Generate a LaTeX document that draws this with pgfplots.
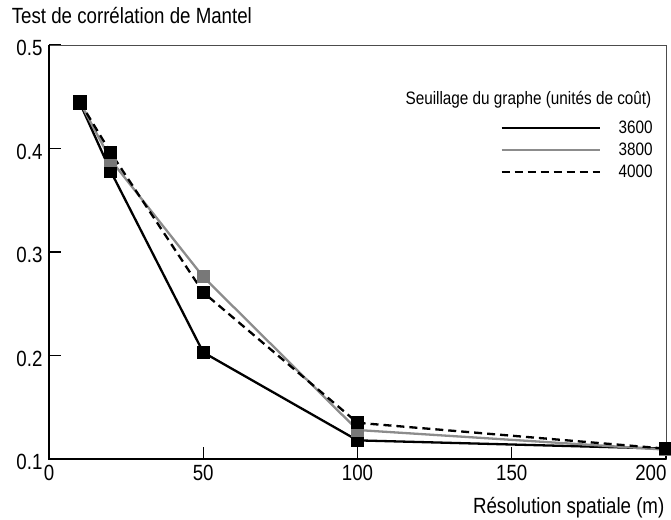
\documentclass[border=0pt]{standalone}
\usepackage{pgfplots}
\pgfplotsset{compat=1.18}
\usepackage{fontspec}
\setmainfont{Liberation Sans}[FakeStretch=0.85]

\definecolor{grisligne}{RGB}{140,140,140}
\definecolor{grismarque}{RGB}{120,120,120}

\begin{document}
\begin{tikzpicture}
\useasboundingbox (-49pt,-60pt) rectangle (622pt,459pt);
\begin{axis}[
	scale only axis,
	width=617pt, height=414pt,
	xmin=0, xmax=200,
	ymin=0.1, ymax=0.5,
	xtick={0,50,100,150},
	extra x ticks={200},
	extra x tick style={xticklabel style={anchor=north east, xshift=4pt}},
	ytick={0.1,0.2,0.3,0.4,0.5},
	xtick pos=bottom, ytick pos=left,
	tick align=inside,
	major tick length=12pt,
	every tick/.style={black, line width=1.4pt},
	axis line style={line width=0.6pt, draw=black!70},
	yticklabel style={/pgf/number format/fixed, /pgf/number format/precision=1, /pgf/number format/fixed zerofill, xshift=-3pt, yshift=-3pt},
	/pgf/number format/assume math mode=true,
	ticklabel style={font=\fontsize{22}{24}\selectfont},
	xticklabel style={yshift=-3pt},
	clip=false,
	legend style={draw=none, fill=none, at={(rel axis cs:0.982,0.822)}, anchor=north east,
		font=\fontsize{18}{20}\selectfont, row sep=4pt, column sep=16pt, inner sep=0pt},
	legend cell align=right,
	legend image code/.code={\draw[#1, mark=none] (0pt,0pt) -- (98pt,0pt);},
	]

\addplot[black, line width=2.3pt, mark=square*, mark size=5.5pt, mark options={solid, fill=black}]
	coordinates {(10,0.444)(20,0.378)(50,0.203)(100,0.118)(200,0.110)};
\addlegendentry{3600}
\addplot[grisligne, line width=2.3pt, mark=square*, mark size=5.5pt, mark options={solid, fill=grismarque, draw=grismarque}]
	coordinates {(10,0.445)(20,0.389)(50,0.276)(100,0.128)(200,0.109)};
\addlegendentry{3800}
\addplot[black, line width=2.3pt, dash pattern=on 8pt off 5pt, mark=square*, mark size=5.5pt, mark options={solid, fill=black}]
	coordinates {(10,0.445)(20,0.396)(50,0.261)(100,0.135)(200,0.110)};
\addlegendentry{4000}

\draw[black, line width=2.4pt] (rel axis cs:0,1) -- (rel axis cs:0,0) -- (rel axis cs:1,0);
\node[anchor=east, font=\fontsize{18}{20}\selectfont] at (rel axis cs:0.982,0.867) {Seuillage du graphe (unités de coût)};
\node[anchor=west, font=\fontsize{22}{24}\selectfont] at (rel axis cs:-0.066,1.072) {Test de corrélation de Mantel};
\node[anchor=east, font=\fontsize{22}{24}\selectfont] at (rel axis cs:1.003,-0.118) {Résolution spatiale (m)};
\end{axis}
\end{tikzpicture}
\end{document}
